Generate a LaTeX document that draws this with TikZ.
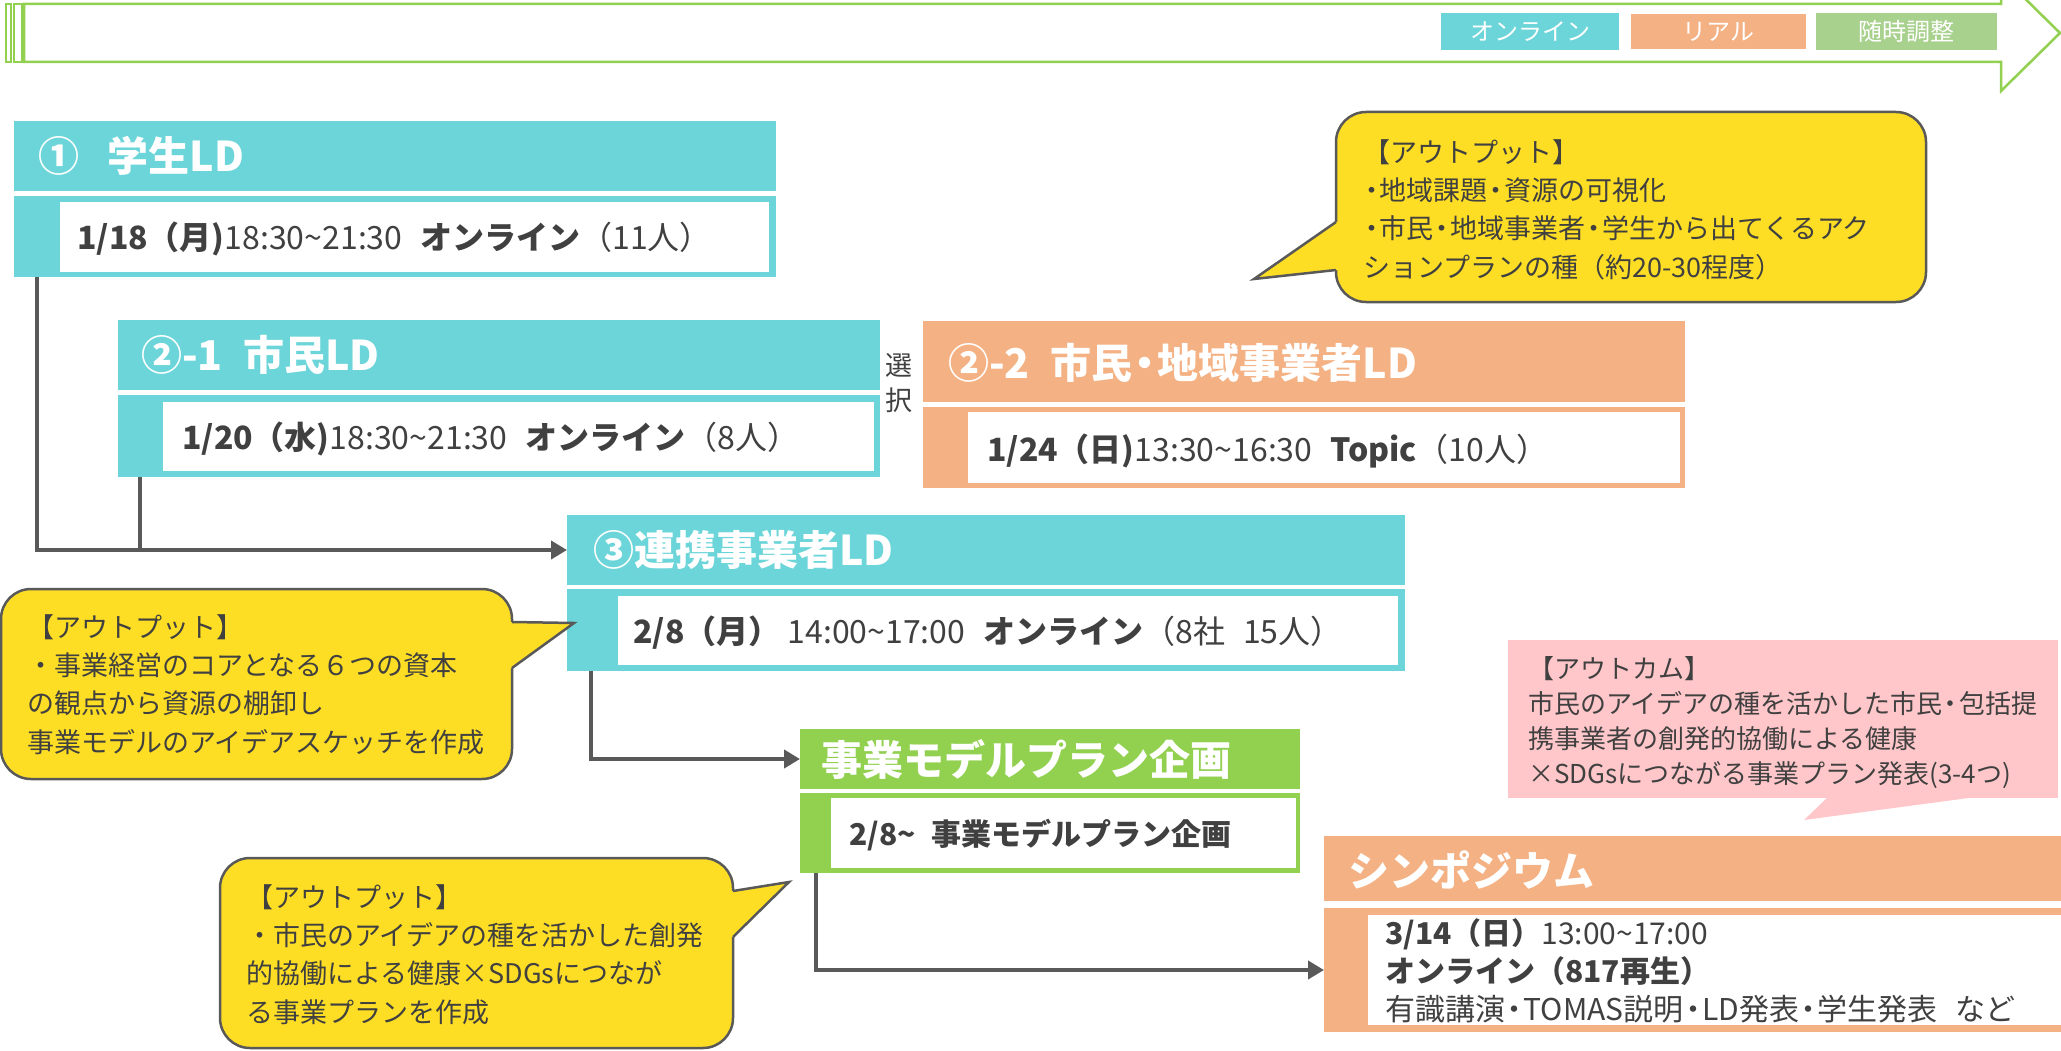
\documentclass[tikz,border=0pt]{standalone}
\usepackage{fontspec}
\setmainfont{Noto Sans CJK JP}
\usetikzlibrary{arrows.meta,calc}
\definecolor{cOn}{HTML}{6BD5D9}
\definecolor{cReal}{HTML}{F4B183}
\definecolor{cAdj}{HTML}{A9D18E}
\definecolor{cGreen}{HTML}{92D050}
\definecolor{cYel}{HTML}{FEDE24}
\definecolor{cPink}{HTML}{FFC7CA}
\definecolor{cTxt}{HTML}{404040}
\definecolor{cLine}{HTML}{595959}
\newcommand\nd{\makebox[0.62em]{・}}
\begin{document}
\begin{tikzpicture}[x=1pt,y=-1pt,
  rect/.style={anchor=north west, inner sep=0pt, outer sep=0pt, draw=none},
  whitebox/.style={rect, fill=white},
  hdrtext/.style={anchor=west, inner sep=0pt, text=white, font=\fontsize{41}{41}\selectfont\bfseries},
  bodytext/.style={anchor=base west, inner sep=0pt, text=cTxt, align=left, font=\fontsize{32}{38}\selectfont},
  calltext/.style={anchor=base west, inner sep=0pt, text=cTxt, align=left, font=\fontsize{27}{38.3}\selectfont},
  conn/.style={draw=cLine, line width=4.5pt, -{Triangle[length=16pt,width=18pt]}},
  connplain/.style={draw=cLine, line width=4.5pt},
  callbox/.style={rect, fill=cYel, draw=cLine, line width=2.5pt, rounded corners=30pt},
  callptr/.style={draw=cLine, line width=2.5pt},
  legend/.style={rect, text=white, font=\fontsize{24}{24}\selectfont},
  arrline/.style={draw=cGreen, line width=2.5pt, fill=white}
]
\useasboundingbox (0,0) rectangle (2061,1051);

% ---- top striped arrow ----
\path[arrline] (6,4) rectangle (11,62);
\path[arrline] (14,4) rectangle (22,62);
\path[arrline] (24,4) -- (2001,4) -- (2001,-25) -- (2060,33) -- (2001,91) -- (2001,62) -- (24,62) -- cycle;

% legend
\node[legend, fill=cOn, minimum width=178pt, minimum height=37pt] (lg1) at (1441,13) {};
\node[text=white, font=\fontsize{24}{24}\selectfont, inner sep=0pt] (lg1t) at (lg1.center) {オンライン};
\node[legend, fill=cReal, minimum width=175pt, minimum height=35pt] (lg2) at (1631,14) {};
\node[text=white, font=\fontsize{24}{24}\selectfont, inner sep=0pt] (lg2t) at (lg2.center) {リアル};
\node[legend, fill=cAdj, minimum width=181pt, minimum height=37pt] (lg3) at (1816,13) {};
\node[text=white, font=\fontsize{24}{24}\selectfont, inner sep=0pt] (lg3t) at (lg3.center) {随時調整};

% ---- (1) student LD ----
\node[rect, fill=cOn, minimum width=762pt, minimum height=70pt] (h1) at (14,121) {};
\node[hdrtext] (h1t) at (38,156) {①\hspace{0.7em}学生LD};
\node[rect, fill=cOn, minimum width=762pt, minimum height=81pt] (b1) at (14,196) {};
\node[whitebox, minimum width=709pt, minimum height=70pt] (w1) at (60,202) {};
\node[bodytext] (t1) at (77,249) {{\bfseries 1/18（月)}18:30\textasciitilde 21:30\hspace{18pt}{\bfseries オンライン}（11人）};

% ---- (2)-1 citizen LD ----
\node[rect, fill=cOn, minimum width=762pt, minimum height=70pt] (h21) at (118,320) {};
\node[hdrtext] (h21t) at (141,355) {②-1\hspace{0.5em}市民LD};
\node[rect, fill=cOn, minimum width=762pt, minimum height=82pt] (b21) at (118,395) {};
\node[whitebox, minimum width=711pt, minimum height=69pt] (w21) at (163,402) {};
\node[bodytext] (t21) at (182,449) {{\bfseries 1/20（水)}18:30\textasciitilde 21:30\hspace{18pt}{\bfseries オンライン}（8人）};

% selection label
\node[inner sep=0pt, text=cTxt, align=center, font=\fontsize{27}{35}\selectfont] (sel) at (899,383) {選\\択};

% ---- (2)-2 ----
\node[rect, fill=cReal, minimum width=762pt, minimum height=81pt] (h22) at (923,321) {};
\node[hdrtext] (h22t) at (948,363) {②-2\hspace{0.5em}市民\nd 地域事業者LD};
\node[rect, fill=cReal, minimum width=762pt, minimum height=81pt] (b22) at (923,407) {};
\node[whitebox, minimum width=712pt, minimum height=71pt] (w22) at (968,412) {};
\node[bodytext] (t22) at (987,461) {{\bfseries 1/24（日)}13:30\textasciitilde 16:30\hspace{18pt}{\bfseries Topic}（10人）};

% ---- (3) partner LD ----
\node[rect, fill=cOn, minimum width=838pt, minimum height=70pt] (h3) at (567,515) {};
\node[hdrtext] (h3t) at (593,550) {③連携事業者LD};
\node[rect, fill=cOn, minimum width=838pt, minimum height=82pt] (b3) at (567,589) {};
\node[whitebox, minimum width=780pt, minimum height=69pt] (w3) at (618,596) {};
\node[bodytext] (t3) at (633,643) {{\bfseries 2/8（月）} 14:00\textasciitilde 17:00\hspace{18pt}{\bfseries オンライン}（8社\hspace{18pt}15人）};

% ---- business model plan ----
\node[rect, fill=cGreen, minimum width=500pt, minimum height=60pt] (h4) at (800,729) {};
\node[hdrtext] (h4t) at (821,760) {事業モデルプラン企画};
\node[rect, fill=cGreen, minimum width=500pt, minimum height=80pt] (b4) at (800,793) {};
\node[whitebox, minimum width=465pt, minimum height=70pt] (w4) at (831,798) {};
\node[bodytext, font=\fontsize{30}{38}\selectfont] (t4) at (849,845) {\bfseries 2/8\textasciitilde\hspace{16pt}事業モデルプラン企画};

% ---- symposium ----
\node[rect, fill=cReal, minimum width=737pt, minimum height=65pt] (h5) at (1324,836) {};
\node[hdrtext] (h5t) at (1348,870) {シンポジウム};
\node[rect, fill=cReal, minimum width=737pt, minimum height=124pt] (b5) at (1324,908) {};
\node[whitebox, minimum width=693pt, minimum height=110pt] (w5) at (1368,915) {};
\node[bodytext, font=\fontsize{30}{38}\selectfont] (t5) at (1385,1020) {{\bfseries 3/14（日）}13:00\textasciitilde 17:00\\{\bfseries オンライン（817再生）}\\有識講演\nd TOMAS説明\nd LD発表\nd 学生発表\hspace{18pt}など};

% ---- connectors ----
\coordinate (s1) at ($(b1.south west)+(23,0)$);
\coordinate (s21) at ($(b21.south west)+(22,0)$);
\coordinate (s3) at ($(b3.south west)+(24,0)$);
\coordinate (s4) at ($(b4.south west)+(16,0)$);
\draw[conn] (s1) |- (h3.west);
\draw[connplain] (s21) -- (s21 |- h3.west);
\draw[conn] (s3) |- (h4.west);
\draw[conn] (s4) |- (b5.west);

% ---- callout 1 (top right) ----
\node[callbox, minimum width=590pt, minimum height=190pt] (co1) at (1336,112) {};
\fill[cYel] (1341,222) -- (1336,222) -- (1254,279) -- (1336,270) -- (1341,270) -- cycle;
\draw[callptr] (1336,222) -- (1254,279) -- (1336,270);
\node[calltext] (co1t) at (1363,277) {【アウトプット】\\\nd 地域課題\nd 資源の可視化\\\nd 市民\nd 地域事業者\nd 学生から出てくるアク\\ションプランの種（約20-30程度）};

% ---- callout 2 (left) ----
\node[callbox, minimum width=511pt, minimum height=190pt] (co2) at (1,589) {};
\fill[cYel] (507,622) -- (512,622) -- (574,623) -- (512,668) -- (507,668) -- cycle;
\draw[callptr] (512,622) -- (574,623) -- (512,668);
\node[calltext] (co2t) at (27,752) {【アウトプット】\\・事業経営のコアとなる６つの資本\\の観点から資源の棚卸し\\事業モデルのアイデアスケッチを作成};

% ---- callout 3 (bottom) ----
\node[callbox, minimum width=513pt, minimum height=190pt] (co3) at (220,858) {};
\fill[cYel] (728,891) -- (733,891) -- (789,882) -- (733,937) -- (728,937) -- cycle;
\draw[callptr] (733,891) -- (789,882) -- (733,937);
\node[calltext] (co3t) at (246,1022) {【アウトプット】\\・市民のアイデアの種を活かした創発\\的協働による健康×SDGsにつなが\\る事業プランを作成};

% ---- outcome (pink) ----
\node[rect, fill=cPink, minimum width=550pt, minimum height=158pt] (co4) at (1508,640) {};
\fill[cPink] (1828,797) -- (1804,820) -- (1976,797) -- cycle;
\node[calltext, font=\fontsize{26}{35}\selectfont] (co4t) at (1528,783) {【アウトカム】\\市民のアイデアの種を活かした市民\nd 包括提\\携事業者の創発的協働による健康\\×SDGsにつながる事業プラン発表(3-4つ)};

\end{tikzpicture}
\end{document}
